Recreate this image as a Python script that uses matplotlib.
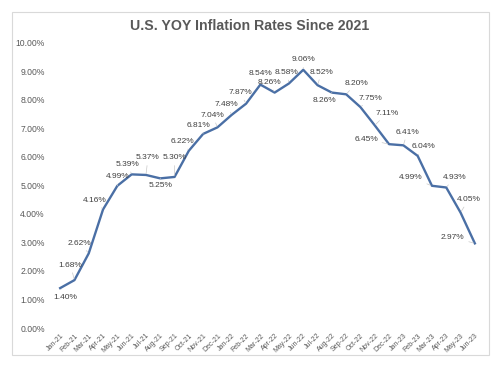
import matplotlib
matplotlib.use("Agg")
import matplotlib.pyplot as plt
from matplotlib.patches import Rectangle

months = ["Jan-21","Feb-21","Mar-21","Apr-21","May-21","Jun-21","Jul-21","Aug-21","Sep-21","Oct-21",
          "Nov-21","Dec-21","Jan-22","Feb-22","Mar-22","Apr-22","May-22","Jun-22","Jul-22","Aug-22",
          "Sep-22","Oct-22","Nov-22","Dec-22","Jan-23","Feb-23","Mar-23","Apr-23","May-23","Jun-23"]
rates = [1.40,1.68,2.62,4.16,4.99,5.39,5.37,5.25,5.30,6.22,
         6.81,7.04,7.48,7.87,8.54,8.26,8.58,9.06,8.52,8.26,
         8.20,7.75,7.11,6.45,6.41,6.04,4.99,4.93,4.05,2.97]
yticks = [0,1,2,3,4,5,6,7,8,9,10]

# label offsets in pixels (dx right, dy up)
offsets = [(5,-9),(-4,15),(-9,10),(-8,9),(0,9),(-4,10),(2,17),(0,-7),(0,19),(-6,9),
           (-5,8),(-5,12),(-5,10),(-6,11),(0,11),(-5,10),(-2,11),(0,10),(4,13),(-7,-8),
           (10,11),(10,9),(12,12),(-23,5),(4,13),(6,9),(-21,8),(8,10),(8,13),(-22,6)]

W, H = 500, 368
fig = plt.figure(figsize=(W/100, H/100), dpi=100)
fig.patch.set_facecolor("white")
fig.add_artist(Rectangle((12/W, 1-355/H), (489-12)/W, (355-12)/H, transform=fig.transFigure,
                         fill=False, edgecolor="#d9d9d9", lw=0.8))

ax = fig.add_axes([53/W, 1-328/H, (482-53)/W, (328-43)/H])
x = list(range(len(months)))
ax.plot(x, rates, color="#4a6fa5", lw=1.7, solid_joinstyle="round")
ax.set_xlim(-0.5, len(months)-0.5)
ax.set_ylim(0, 10)
ax.set_yticks(yticks)
ax.set_yticklabels([f"{v:.2f}%" for v in yticks], fontsize=6.2, color="#595959",
                   family="Liberation Sans")
ax.set_xticks(x)
ax.set_xticklabels(months, rotation=45, ha="right", rotation_mode="anchor", fontsize=5.0,
                   color="#595959", family="Liberation Sans")
ax.tick_params(length=0, pad=6)
ax.tick_params(axis="x", pad=3)
for s in ax.spines.values():
    s.set_visible(False)
ax.set_facecolor("white")

for i, (v, (dx, dy)) in enumerate(zip(rates, offsets)):
    ax.annotate(f"{v:.2f}%", (i, v), xytext=(dx*0.72, dy*0.72), textcoords="offset points",
                ha="center", va="center", fontsize=6.0, color="#404040", family="Liberation Sans",
                arrowprops=dict(arrowstyle="-", color="#c8c8c8", lw=0.5, shrinkA=1, shrinkB=1))

fig.text(250/W, 1-26/H, "U.S. YOY Inflation Rates Since 2021", ha="center", va="center",
         fontsize=10.2, fontweight="bold", color="#595959", family="Liberation Sans")

fig.savefig("out.png", dpi=100)
